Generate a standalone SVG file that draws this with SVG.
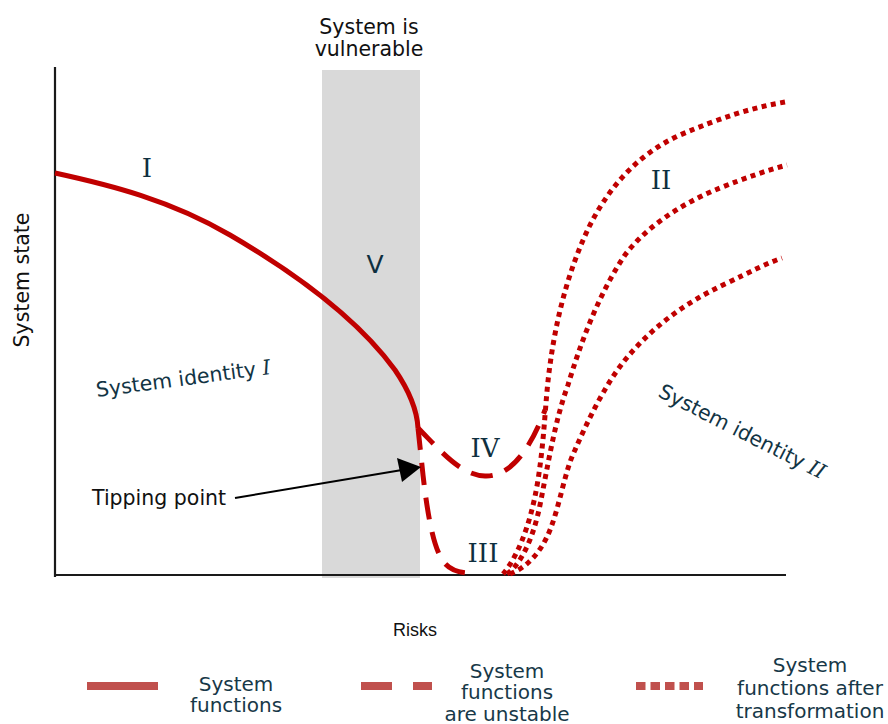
<svg xmlns="http://www.w3.org/2000/svg" width="888" height="724" viewBox="0 0 888 724">
<style>
.lbl{font-family:"DejaVu Sans",Verdana,sans-serif;font-size:20.5px;fill:#111}
.tl{font-family:"DejaVu Sans",Verdana,sans-serif;font-size:20.5px;fill:#123444}
.rn{font-family:"DejaVu Serif",serif;font-size:26px;fill:#0f2f3f;text-anchor:middle}
.leg{font-family:"DejaVu Sans",Verdana,sans-serif;font-size:20px;fill:#173848;text-anchor:middle}
.solid{fill:none;stroke:#c00000;stroke-width:5}
.dash{fill:none;stroke:#c00000;stroke-width:5;stroke-dasharray:22 13}
.dot{fill:none;stroke:#c00000;stroke-width:5;stroke-dasharray:5 4.5}
.axis{stroke:#1a1a1a;stroke-width:2.2;fill:none}
</style>
<rect width="888" height="724" fill="#fff"/>
<g id="vulnerable-zone">
<rect x="322" y="70" width="98" height="508" fill="#d9d9d9"/>
<text class="lbl" x="369" y="34" text-anchor="middle">System is</text>
<text class="lbl" x="369" y="56" text-anchor="middle">vulnerable</text>
</g>
<g id="axes">
<line class="axis" x1="55" y1="67" x2="55" y2="577"/>
<line class="axis" x1="54" y1="575" x2="786" y2="575"/>
<text class="lbl" transform="translate(29,280) rotate(-90)" text-anchor="middle">System state</text>
<text x="415" y="636" text-anchor="middle" style="font-family:'Liberation Sans',Arial,sans-serif;font-size:18px;fill:#111">Risks</text>
</g>
<g id="connectors">
<path id="curve-I" class="solid" d="M55,173 C110,185 170,200 230,235 C290,270 355,315 395,370 C410,392 417,410 418,428"/>
<path id="curve-III" class="dash" d="M418,428 L423,475 C427,510 432,540 440,556 C446,568 455,573 472,573"/>
<path id="curve-IV" class="dash" d="M418,428 C440,450 460,475 485,476 C510,477 530,450 545,410"/>
<path id="curve-IIa" class="dot" d="M503,574 C515,560 530,530 538,480 C545,435 545,400 550,365 C556,320 568,270 590,225 C612,182 642,152 680,135 C720,118 750,108 785,102"/>
<path id="curve-IIb" class="dot" d="M507,574 C520,565 533,540 540,505 C548,465 555,420 568,385 C580,345 598,295 625,255 C650,222 690,200 720,188 C745,178 765,171 787,165"/>
<path id="curve-IIc" class="dot" d="M510,574 C525,568 540,555 550,530 C560,505 565,470 575,450 C588,420 605,385 625,360 C650,330 680,305 727,283 C750,272 765,264 782,258"/>
<line x1="235" y1="498" x2="402" y2="470" stroke="#000" stroke-width="2"/>
<polygon points="421,467 397,458 402,482" fill="#000"/>
</g>
<g id="labels">
<text class="rn" x="147" y="177">I</text>
<text x="375" y="273" text-anchor="middle" style="font-family:'DejaVu Sans',sans-serif;font-size:25px;fill:#0f2f3f">V</text>
<text class="rn" x="485" y="457">IV</text>
<text class="rn" x="483" y="562">III</text>
<text class="rn" x="661" y="189">II</text>
<text class="tl" transform="translate(97,397) rotate(-7.5)">System identity <tspan style="font-family:'DejaVu Serif',serif;font-style:italic">I</tspan></text>
<text class="tl" transform="translate(657,396) rotate(27)">System identity <tspan style="font-family:'DejaVu Serif',serif;font-style:italic">II</tspan></text>
<text class="lbl" x="92" y="505">Tipping point</text>
</g>
<g id="legend">
<line x1="87" y1="686" x2="158" y2="686" stroke="#c0504d" stroke-width="8"/>
<line x1="361" y1="686" x2="432" y2="686" stroke="#c0504d" stroke-width="8" stroke-dasharray="31 21"/>
<line x1="636" y1="686" x2="703" y2="686" stroke="#c0504d" stroke-width="8" stroke-dasharray="9.5 5"/>
<text class="leg" x="236" y="691">System</text>
<text class="leg" x="236" y="712">functions</text>
<text class="leg" x="507" y="678">System</text>
<text class="leg" x="507" y="699">functions</text>
<text class="leg" x="507" y="721">are unstable</text>
<text class="leg" x="810" y="672">System</text>
<text class="leg" x="810" y="695">functions after</text>
<text class="leg" x="810" y="718">transformation</text>
</g>
</svg>
